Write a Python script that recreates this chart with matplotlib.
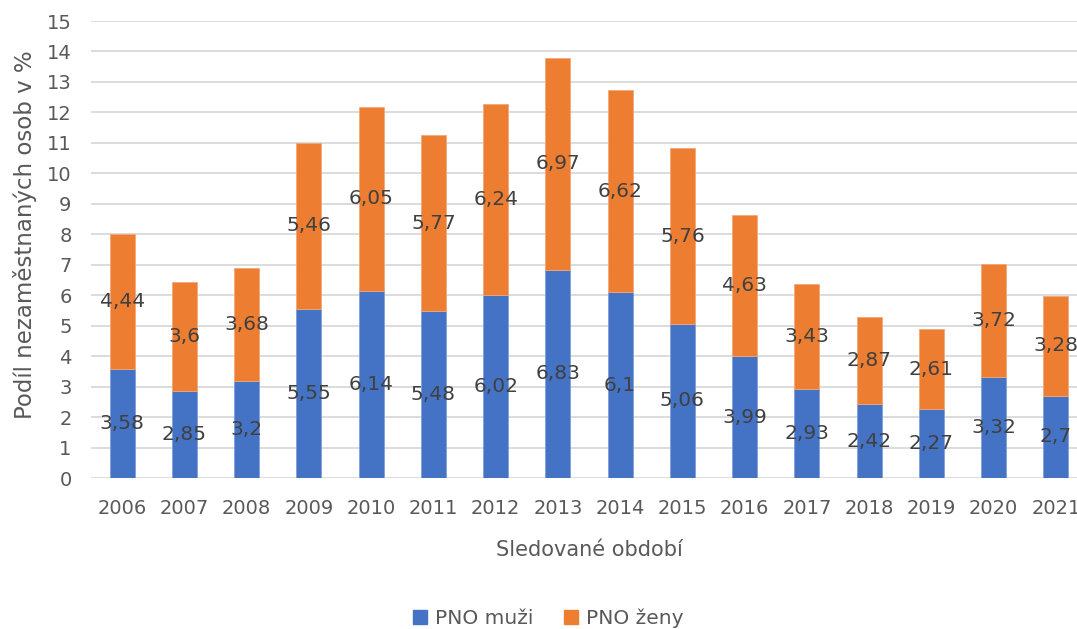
import matplotlib
matplotlib.use("Agg")
import matplotlib.pyplot as plt
import numpy as np
from matplotlib.patches import Patch

roky = ["2006", "2007", "2008", "2009", "2010", "2011", "2012", "2013",
        "2014", "2015", "2016", "2017", "2018", "2019", "2020", "2021"]
muzi = [3.58, 2.85, 3.2, 5.55, 6.14, 5.48, 6.02, 6.83,
        6.1, 5.06, 3.99, 2.93, 2.42, 2.27, 3.32, 2.7]
zeny = [4.44, 3.6, 3.68, 5.46, 6.05, 5.77, 6.24, 6.97,
        6.62, 5.76, 4.63, 3.43, 2.87, 2.61, 3.72, 3.28]

blue = "#4472C4"
orange = "#ED7D31"
txt = "#595959"

plt.rcParams['font.family'] = ['DejaVu Sans']

fig = plt.figure(figsize=(10.77, 6.29), dpi=100)
ax = fig.add_axes([0.0845, 0.24, 1.0093 - 0.0845, 0.9666 - 0.24])

x = np.arange(len(roky))
w = 0.40
ax.bar(x, muzi, w, color=blue, edgecolor="#7f9fd9", linewidth=0.6, zorder=3)
ax.bar(x, zeny, w, bottom=muzi, color=orange, edgecolor="#f3a878", linewidth=0.6, zorder=3)

def fmt(v):
    return ("%g" % v).replace(".", ",")

for i in range(len(roky)):
    ax.text(x[i], muzi[i] / 2, fmt(muzi[i]), ha="center", va="center",
            fontsize=14.5, color="#404040", zorder=4)
    ax.text(x[i], muzi[i] + zeny[i] / 2, fmt(zeny[i]), ha="center", va="center",
            fontsize=14.5, color="#404040", zorder=4)

ax.set_xlim(-0.5, len(roky) - 0.5)
ax.set_ylim(0, 15)
ax.set_yticks(range(0, 16))
ax.set_xticks(x)
ax.set_xticklabels(roky)
ax.grid(axis="y", color="#D9D9D9", linewidth=1.3, zorder=0)
for s in ax.spines.values():
    s.set_visible(False)
ax.tick_params(axis="both", length=0, labelsize=14, labelcolor=txt)
ax.tick_params(axis="x", pad=15)
ax.tick_params(axis="y", pad=14)

ax.set_xlabel("Sledované období", fontsize=15, color=txt, labelpad=16)
ax.set_ylabel("Podíl nezaměstnaných osob v %", fontsize=16.5, color=txt, labelpad=5)
ax.yaxis.set_label_coords(-0.054, 0.532)

handles = [Patch(color=blue, label="PNO muži"), Patch(color=orange, label="PNO ženy")]
fig.legend(handles=handles, loc="center", bbox_to_anchor=(0.509, 1 - 618 / 629),
           ncol=2, frameon=False, fontsize=14.5, labelcolor=txt,
           handlelength=0.7, handleheight=0.7, handletextpad=0.4, columnspacing=1.5)

fig.savefig("out.png", dpi=100)
